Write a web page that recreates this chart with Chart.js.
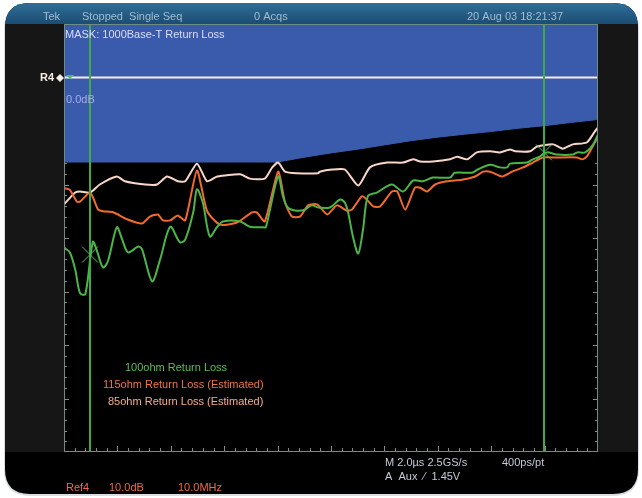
<!DOCTYPE html>
<html>
<head>
<meta charset="utf-8">
<script src="https://cdn.jsdelivr.net/npm/chart.js@4.4.0/dist/chart.umd.min.js"></script>
<style>
  html,body{margin:0;padding:0;background:#ffffff;}
  #wrap{width:642px;height:498px;position:relative;}
  canvas{display:block;}
</style>
</head>
<body>
<div id="wrap"><canvas id="c" width="642" height="498"></canvas></div>
<script>
// ---- Data (frequency in MHz, return loss in dB) ----
const freqMask = [0, 40, 45, 50, 55, 60, 65, 70, 75, 80, 85, 90, 95, 100];
const dbMask   = [-15.8, -15.8, -14.9, -14.1, -13.4, -12.6, -11.8, -11.15, -10.6, -10.1, -9.5, -9.0, -8.4, -7.85];

const freqRef = [0, 100];
const dbRef   = [0, 0];

const freq100 = [0, 1.1, 2.1, 3.0, 4.0, 5.4, 6.2, 7.3, 8.2, 9.9, 10.9, 12.0, 13.9, 14.6, 16.5, 18.0, 19.9, 21.7, 22.7, 24.2, 24.9, 26.0, 27.3, 28.7, 29.8, 33.0, 34.8, 37.3, 37.8, 40.1, 41.0, 41.9, 43.6, 45.1, 46.4, 47.6, 49.8, 51.7, 52.6, 53.2, 54.1, 55.1, 56.0, 56.9, 58.6, 61.4, 63.5, 65.4, 67.2, 69.1, 72.3, 73.2, 76.4, 77.5, 79.8, 81.6, 83.0, 83.5, 86.7, 87.8, 89.1, 90.4, 92.3, 95.3, 96.1, 97.6, 99.1, 100];
const db100   = [-31.8, -32.7, -35.9, -40.3, -40.5, -30.7, -32.5, -35.5, -34.4, -28.0, -30.3, -32.7, -31.6, -32.1, -38.1, -34.0, -27.9, -30.8, -30.3, -25.2, -20.9, -23.4, -29.7, -27.9, -26.9, -26.9, -27.9, -28.0, -28.0, -18.5, -22.2, -24.3, -24.9, -24.7, -23.9, -24.3, -24.3, -22.8, -23.4, -25.2, -29.7, -32.9, -28.4, -22.2, -21.5, -20.0, -21.3, -19.25, -19.4, -18.7, -18.7, -17.8, -17.8, -17.2, -16.3, -16.8, -16.8, -16.1, -15.9, -15.3, -14.8, -14.0, -14.4, -14.4, -14.0, -14.0, -12.5, -10.65];

const freq115 = [0, 1.1, 2.4, 3.0, 4.9, 6.4, 7.3, 9.2, 11.8, 14.6, 16.1, 17.6, 18.5, 19.9, 21.3, 22.7, 24.9, 26.8, 29.2, 32.4, 35.2, 36.1, 37.6, 40.1, 41.4, 42.7, 44.2, 45.7, 47.4, 49.3, 51.1, 53.0, 53.9, 55.8, 56.7, 57.9, 59.2, 61.4, 62.4, 63.9, 65.7, 66.7, 68.0, 69.5, 71.7, 74.5, 77.0, 78.5, 79.8, 82.0, 83.9, 86.0, 87.8, 89.7, 92.3, 96.1, 97.0, 97.9, 99.4, 100];
const db115   = [-20.7, -21.0, -23.2, -23.2, -21.5, -24.7, -25.0, -25.2, -26.5, -27.3, -26.0, -25.6, -26.7, -26.7, -25.8, -26.7, -17.4, -25.0, -27.5, -27.1, -25.2, -25.2, -26.9, -17.6, -23.4, -26.0, -26.0, -23.9, -23.7, -25.6, -23.9, -24.9, -24.7, -22.2, -22.8, -24.1, -24.1, -21.3, -21.3, -24.7, -20.6, -20.6, -21.3, -20.0, -19.4, -19.1, -18.5, -17.6, -17.6, -18.5, -17.6, -16.8, -15.9, -14.95, -14.95, -14.95, -15.3, -14.8, -12.15, -11.2];

const freq85 = [0, 2.1, 3.0, 4.9, 6.7, 9.9, 11.4, 15.2, 17.4, 19.3, 21.3, 22.7, 24.9, 26.8, 28.7, 33.0, 34.8, 37.6, 39.0, 40.1, 41.4, 43.6, 47.6, 47.9, 50.2, 52.6, 55.1, 57.3, 60.5, 63.5, 65.4, 66.7, 69.1, 72.3, 73.6, 75.5, 77.3, 79.8, 81.6, 83.5, 84.5, 87.3, 88.6, 91.6, 93.4, 95.3, 97.9, 99.4, 100];
const db85   = [-23.7, -21.5, -21.3, -21.5, -20.0, -18.5, -19.4, -20.0, -20.0, -18.5, -19.4, -19.4, -16.1, -19.4, -18.5, -18.1, -18.9, -18.9, -16.8, -15.9, -17.6, -17.9, -17.9, -17.6, -17.2, -17.2, -20.2, -16.8, -15.9, -15.9, -15.3, -15.7, -15.7, -15.3, -14.8, -15.3, -14.0, -13.8, -14.0, -13.45, -13.8, -13.8, -12.9, -12.5, -13.3, -12.5, -12.15, -10.1, -9.35];

const cursorFreqs = [4.9, 89.9];
const cursorMarkDb = [-33.1, -14.0];

const seriesLabels = ["100ohm Return Loss", "115ohm Return Loss (Estimated)", "85ohm Return Loss (Estimated)"];
const headerTexts = ["Tek", "Stopped  Single Seq", "0 Acqs", "20 Aug 03 18:21:37"];
const maskTitle = "MASK: 1000Base-T Return Loss";
const refLabel = "0.0dB";
const footerTexts = ["M 2.0\u00b5s 2.5GS/s", "400ps/pt", "A  Aux  \u2044  1.45V", "Ref4", "10.0dB", "10.0MHz"];

const xMin = 0, xMax = 100, yMin = -70, yMax = 10;

function pts(f, d){ return f.map((v,i)=>({x:v, y:d[i]})); }

const FONT = '"Liberation Sans", Arial, sans-serif';

function roundRect(ctx, x, y, w, h, r){
  ctx.beginPath();
  ctx.moveTo(x+r, y);
  ctx.lineTo(x+w-r, y);
  ctx.quadraticCurveTo(x+w, y, x+w, y+r);
  ctx.lineTo(x+w, y+h-r);
  ctx.quadraticCurveTo(x+w, y+h, x+w-r, y+h);
  ctx.lineTo(x+r, y+h);
  ctx.quadraticCurveTo(x, y+h, x, y+h-r);
  ctx.lineTo(x, y+r);
  ctx.quadraticCurveTo(x, y, x+r, y);
  ctx.closePath();
}

const scopePlugin = {
  id: 'scope',
  beforeDraw(chart){
    const ctx = chart.ctx;
    const a = chart.chartArea;
    ctx.save();
    ctx.fillStyle = '#ffffff';
    ctx.fillRect(0,0,chart.width,chart.height);
    roundRect(ctx, 4, 3, 635, 493, 26);
    ctx.fillStyle = '#d8dde2';
    ctx.fill();
    roundRect(ctx, 5, 3, 633, 491, 25);
    ctx.save();
    ctx.clip();
    ctx.fillStyle = '#000000';
    ctx.fillRect(0,0,chart.width,chart.height);
    const g = ctx.createLinearGradient(0,3,0,a.top);
    g.addColorStop(0,'#2f6f98');
    g.addColorStop(1,'#1c4c73');
    ctx.fillStyle = g;
    ctx.fillRect(0,0,chart.width,a.top);
    ctx.fillStyle = '#161616';
    ctx.fillRect(0,a.top,a.left,a.bottom-a.top);
    ctx.fillRect(a.right,a.top,chart.width-a.right,a.bottom-a.top);
    ctx.restore();
    ctx.fillStyle = '#000000';
    ctx.fillRect(a.left,a.top,a.right-a.left,a.bottom-a.top);
    ctx.restore();
  },
  afterDatasetsDraw(chart){
    const ctx = chart.ctx;
    const a = chart.chartArea;
    const xs = chart.scales.x, ys = chart.scales.y;
    ctx.save();
    // cursors
    cursorFreqs.forEach((f,i)=>{
      const px = Math.round(xs.getPixelForValue(f));
      ctx.lineWidth = 2;
      ctx.strokeStyle = '#3faa48';
      ctx.beginPath();
      ctx.moveTo(px, a.top);
      ctx.lineTo(px, a.bottom);
      ctx.stroke();
      const py = ys.getPixelForValue(cursorMarkDb[i]);
      ctx.lineWidth = 1;
      ctx.strokeStyle = '#4bbf55';
      ctx.beginPath();
      ctx.moveTo(px-8, py-8); ctx.lineTo(px+8, py+8);
      ctx.moveTo(px+8, py-8); ctx.lineTo(px-8, py+8);
      ctx.stroke();
    });
    // border
    ctx.strokeStyle = '#6e8c84';
    ctx.lineWidth = 1;
    ctx.strokeRect(a.left+0.5, a.top+0.5, a.right-a.left-1, a.bottom-a.top-1);
    // ticks
    ctx.strokeStyle = '#8a8a8a';
    const dx = (a.right-a.left)/50;
    for(let i=1;i<50;i++){
      const x = Math.round(a.left + i*dx)+0.5;
      const L = (i%5===0)?5:3;
      ctx.beginPath();
      ctx.moveTo(x, a.bottom-1); ctx.lineTo(x, a.bottom-1-L);
      ctx.stroke();
    }
    const dy = (a.bottom-a.top)/40;
    for(let i=1;i<40;i++){
      const y = Math.round(a.top + i*dy)+0.5;
      if (y < ys.getPixelForValue(-15)) continue;
      const L = (i%5===0)?4:2;
      ctx.beginPath();
      ctx.moveTo(a.left+1, y); ctx.lineTo(a.left+1+L, y);
      ctx.moveTo(a.right-1, y); ctx.lineTo(a.right-1-L, y);
      ctx.stroke();
    }
    // header texts
    ctx.font = '11px ' + FONT;
    ctx.textBaseline = 'middle';
    ctx.fillStyle = '#a3bccf';
    ctx.fillText(headerTexts[0], 43, 17);
    ctx.fillText(headerTexts[1], 82, 17);
    ctx.fillText(headerTexts[2], 254, 17);
    ctx.fillText(headerTexts[3], 467, 17);
    // mask title
    ctx.fillStyle = '#d9def2';
    ctx.fillText(maskTitle, 65, 35);
    // ref label
    ctx.fillStyle = '#a6aee6';
    ctx.fillText(refLabel, 66, 100);
    // R4 marker
    const ry = Math.round(ys.getPixelForValue(0));
    ctx.fillStyle = '#f4eee6';
    ctx.font = 'bold 11px ' + FONT;
    ctx.fillText('R4', 40, ry);
    ctx.beginPath();
    ctx.moveTo(60, ry-4); ctx.lineTo(64, ry); ctx.lineTo(60, ry+4); ctx.lineTo(56, ry); ctx.closePath();
    ctx.fill();
    ctx.fillStyle = '#4bbf55';
    ctx.beginPath();
    ctx.moveTo(66, ry-3); ctx.lineTo(74, ry-3); ctx.lineTo(70, ry+1); ctx.closePath();
    ctx.fill();
    // legend texts
    ctx.font = '11px ' + FONT;
    ctx.fillStyle = '#55c04c';
    ctx.fillText(seriesLabels[0], 125, 368);
    ctx.fillStyle = '#f07442';
    ctx.fillText(seriesLabels[1], 103, 385);
    ctx.fillStyle = '#f4ad88';
    ctx.fillText(seriesLabels[2], 108, 402);
    // footer
    ctx.fillStyle = '#c4cad8';
    ctx.fillText(footerTexts[0], 385, 463);
    ctx.fillText(footerTexts[1], 502, 463);
    ctx.fillText(footerTexts[2], 385, 477);
    ctx.fillStyle = '#ea6c42';
    ctx.fillText(footerTexts[3], 66, 488);
    ctx.fillText(footerTexts[4], 109, 488);
    ctx.fillText(footerTexts[5], 178, 488);
    ctx.restore();
  }
};

new Chart(document.getElementById('c'), {
  type: 'line',
  data: {
    datasets: [
      { label: 'mask', data: pts(freqMask, dbMask), borderColor: '#3a5bab', borderWidth: 1, backgroundColor: '#3a5bab', fill: 'end', pointRadius: 0, tension: 0, order: 5 },
      { label: 'ref', data: pts(freqRef, dbRef), borderColor: '#f6eef4', borderWidth: 2, pointRadius: 0, fill: false, order: 4 },
      { label: seriesLabels[2], data: pts(freq85, db85), borderColor: '#f8d6c8', borderWidth: 2, pointRadius: 0, fill: false, tension: 0.2, order: 3 },
      { label: seriesLabels[1], data: pts(freq115, db115), borderColor: '#f26a2c', borderWidth: 2, pointRadius: 0, fill: false, tension: 0.2, order: 2 },
      { label: seriesLabels[0], data: pts(freq100, db100), borderColor: '#4cb547', borderWidth: 2, pointRadius: 0, fill: false, tension: 0.3, order: 1 }
    ]
  },
  options: {
    responsive: false,
    animation: false,
    devicePixelRatio: 1,
    layout: { padding: { left: 64, right: 44, top: 24, bottom: 46 } },
    plugins: { legend: { display: false }, tooltip: { enabled: false } },
    scales: {
      x: { type: 'linear', min: xMin, max: xMax, display: false },
      y: { type: 'linear', min: yMin, max: yMax, display: false }
    }
  },
  plugins: [scopePlugin]
});
</script>
</body>
</html>
